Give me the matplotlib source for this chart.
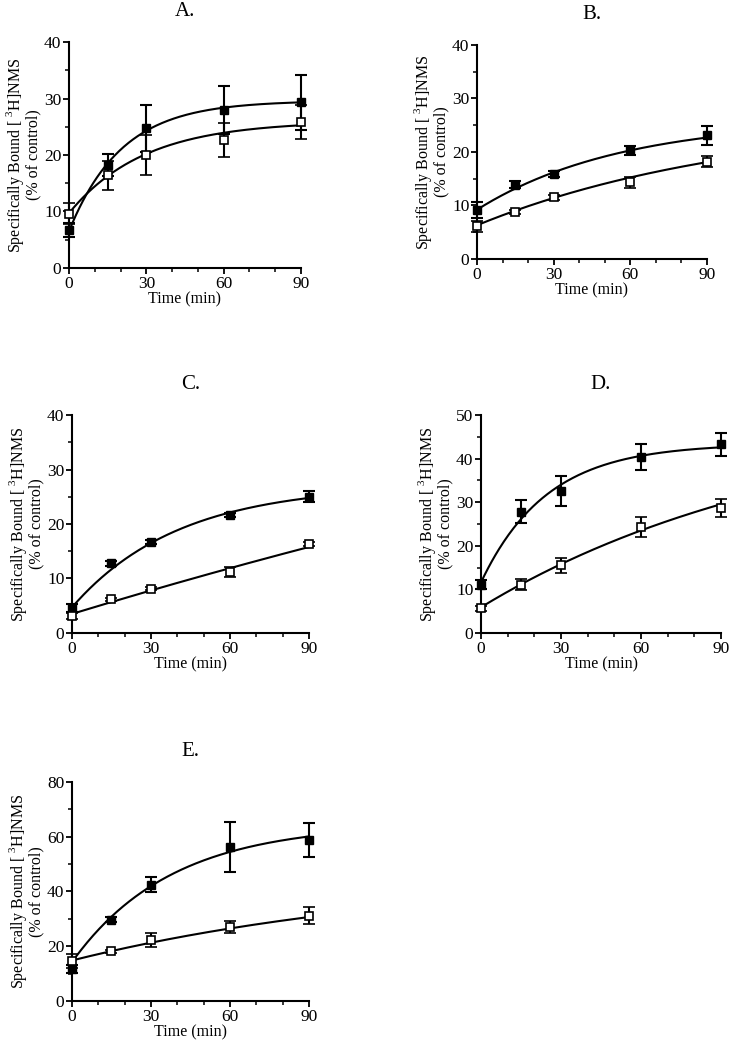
import numpy as np
import matplotlib
matplotlib.use('Agg')
import matplotlib.pyplot as plt
from matplotlib.ticker import MultipleLocator

plt.rcParams['font.family'] = ['Liberation Serif', 'DejaVu Serif']
plt.rcParams['mathtext.fontset'] = 'custom'
plt.rcParams['mathtext.rm'] = 'Liberation Serif'

time = [0, 15, 30, 60, 90]

# panel data: filled squares / open squares, mean and error
a_fill = [6.7, 18.2, 24.7, 28.0, 29.3]
a_fill_err = [1.3, 2.0, 4.2, 4.2, 4.8]
a_open = [9.6, 16.4, 20.0, 22.6, 25.8]
a_open_err = [1.9, 2.6, 3.5, 3.0, 3.0]

b_fill = [9.1, 13.9, 15.9, 20.3, 23.1]
b_fill_err = [1.5, 0.7, 0.6, 0.8, 1.8]
b_open = [6.1, 8.8, 11.5, 14.3, 18.2]
b_open_err = [1.0, 0.4, 0.5, 1.0, 1.0]

c_fill = [4.6, 12.8, 16.7, 21.6, 25.0]
c_fill_err = [0.8, 0.5, 0.4, 0.4, 1.0]
c_open = [3.1, 6.2, 8.1, 11.2, 16.3]
c_open_err = [0.5, 0.3, 0.3, 1.0, 0.4]

d_fill = [11.1, 27.8, 32.6, 40.4, 43.3]
d_fill_err = [1.0, 2.6, 3.4, 3.0, 2.6]
d_open = [5.7, 11.1, 15.5, 24.3, 28.7]
d_open_err = [0.6, 1.3, 1.8, 2.2, 2.0]

e_fill = [11.8, 29.7, 42.5, 56.3, 58.9]
e_fill_err = [1.5, 0.8, 2.8, 9.2, 6.2]
e_open = [14.6, 18.1, 22.2, 27.0, 31.2]
e_open_err = [2.5, 0.7, 2.5, 2.3, 3.0]

# one-phase association fits: (Y0, plateau, k)
a_fit = [(6.5, 29.6, 0.049), (9.7, 26.0, 0.0344)]
b_fit = [(9.2, 26.1, 0.0178), (6.3, 26.7, 0.0096)]
c_fit = [(4.7, 27.2, 0.0248), (3.5, 89.6, 0.00171)]
d_fit = [(11.6, 43.4, 0.0407), (5.9, 50.9, 0.00828)]
e_fit = [(14.2, 64.7, 0.0266), (14.8, 47.3, 0.00744)]

panels = [
    ('A.', [0.0945, 0.7443, 0.3178, 0.2156], 40, 10, 5, a_fill, a_fill_err, a_open, a_open_err, a_fit),
    ('B.', [0.6534, 0.7529, 0.3151, 0.2042], 40, 10, 5, b_fill, b_fill_err, b_open, b_open_err, b_fit),
    ('C.', [0.0986, 0.3960, 0.3247, 0.2080], 40, 10, 5, c_fill, c_fill_err, c_open, c_open_err, c_fit),
    ('D.', [0.6589, 0.3960, 0.3288, 0.2080], 50, 10, 5, d_fill, d_fill_err, d_open, d_open_err, d_fit),
    ('E.', [0.0986, 0.04485, 0.3247, 0.2090], 80, 20, 10, e_fill, e_fill_err, e_open, e_open_err, e_fit),
]

fig = plt.figure(figsize=(7.3, 10.48), dpi=100)

for title, pos, ymax, ymaj, ymin, yf, ef, yo, eo, fits in panels:
    ax = fig.add_axes(pos)
    t = np.linspace(0, 90, 200)
    for y0, plat, k in fits:
        ax.plot(t, y0 + (plat - y0) * (1 - np.exp(-k * t)), color='black', lw=1.5, zorder=2)
    ax.errorbar(time, yf, yerr=ef, fmt='s', ms=6, mfc='black', mec='black', ecolor='black',
                elinewidth=1.5, capsize=4.5, capthick=1.5, zorder=3, clip_on=False)
    ax.errorbar(time, yo, yerr=eo, fmt='s', ms=6, mfc='white', mec='black', mew=1.2, ecolor='black',
                elinewidth=1.5, capsize=4.5, capthick=1.5, zorder=4, clip_on=False)
    ax.set_xlim(0, 90)
    ax.set_ylim(0, ymax)
    ax.xaxis.set_major_locator(MultipleLocator(30))
    ax.xaxis.set_minor_locator(MultipleLocator(10))
    ax.yaxis.set_major_locator(MultipleLocator(ymaj))
    ax.yaxis.set_minor_locator(MultipleLocator(ymin))
    for side in ['top', 'right']:
        ax.spines[side].set_visible(False)
    for side in ['left', 'bottom']:
        ax.spines[side].set_linewidth(1.5)
    ax.tick_params(which='major', length=4, width=1.3, labelsize=12.5, pad=1.5)
    ax.tick_params(which='minor', length=3, width=1.1)
    ax.set_xlabel('Time (min)', fontsize=11.5, labelpad=0)
    ax.set_ylabel('Specifically Bound [ $^{\\mathrm{3}}$H]NMS\n(% of control)', fontsize=11.5, labelpad=2,
                  linespacing=0.95)
    ax.set_title(title, fontsize=15, pad=19)

fig.savefig('out.png', dpi=100)
